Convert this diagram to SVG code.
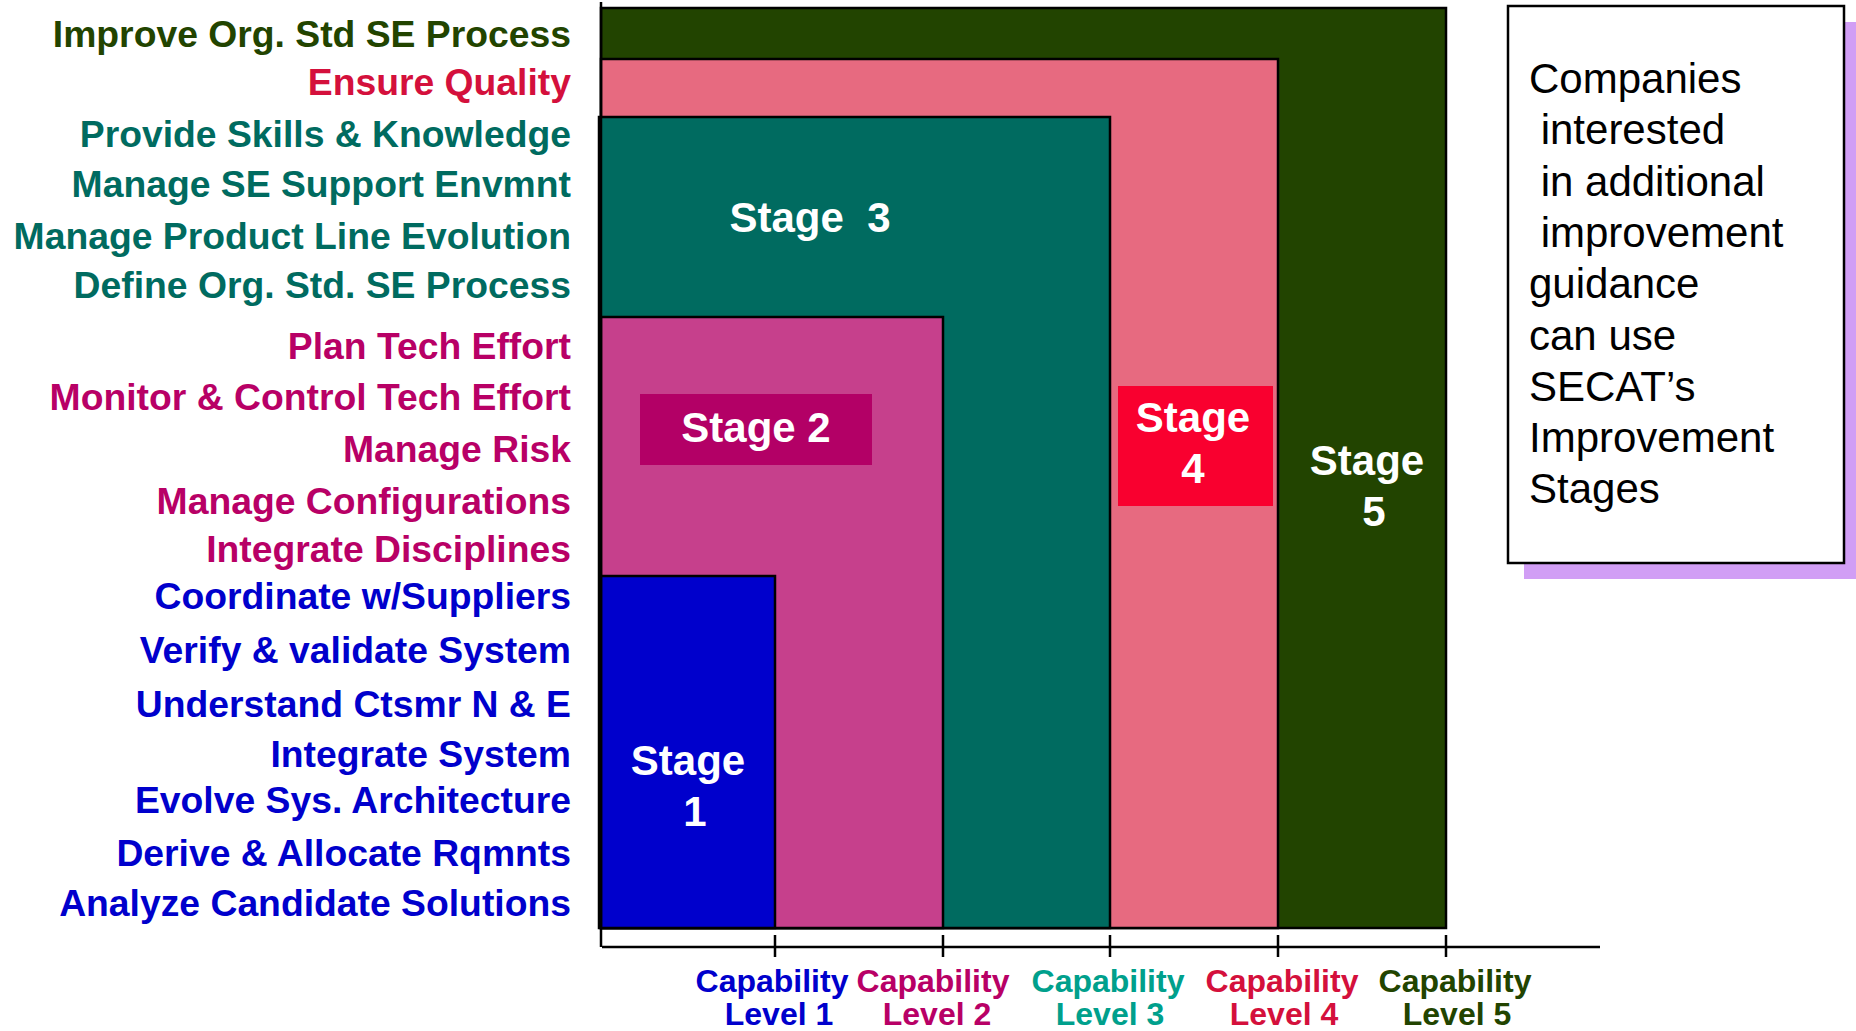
<svg xmlns="http://www.w3.org/2000/svg" width="1856" height="1031" viewBox="0 0 1856 1031">
<style>
.lbl{font-family:"Liberation Sans",Arial,sans-serif;font-weight:bold;font-size:37.3px;text-anchor:end}
.stg{font-family:"Liberation Sans",Arial,sans-serif;font-weight:bold;font-size:42px;fill:#ffffff;text-anchor:middle}
.cap{font-family:"Liberation Sans",Arial,sans-serif;font-weight:bold;font-size:32px;text-anchor:middle}
.note{font-family:"Liberation Sans",Arial,sans-serif;font-size:42px;fill:#000000}
.box{stroke:#000000;stroke-width:2.5}
.g5{fill:#224400}.c4{fill:#D4103C}.c3{fill:#006B60}.c2{fill:#B80066}.c1{fill:#0000CC}.c3l{fill:#00A08C}
.ax{stroke:#000000;stroke-width:2.5;fill:none}
</style>
<rect width="1856" height="1031" fill="#ffffff"/>
<g id="stage5"><rect class="box" x="601" y="8" width="845" height="920" fill="#224400"/></g>
<g id="stage4"><rect class="box" x="601" y="59" width="677" height="869" fill="#E76A80"/></g>
<g id="stage3"><rect class="box" x="599" y="117" width="511" height="811" fill="#006B60"/></g>
<g id="stage2"><rect class="box" x="601" y="317" width="342" height="611" fill="#C6408C"/></g>
<g id="stage1"><rect class="box" x="601" y="576" width="174" height="352" fill="#0000CC"/></g>
<g id="connectors">
<path class="ax" d="M601 2V947M602 947H1600M775 935V957M943 935V957M1110 935V957M1278 935V957M1446 935V957"/>
</g>
<g id="stage3-label"><text class="stg" x="810" y="232" xml:space="preserve">Stage  3</text></g>
<g id="stage2-label"><rect x="640" y="394" width="232" height="71" fill="#B30066"/><text class="stg" x="756" y="442">Stage 2</text></g>
<g id="stage4-label"><rect x="1118" y="386" width="155" height="120" fill="#F9002F"/><text class="stg" x="1193" y="432">Stage</text><text class="stg" x="1193" y="483">4</text></g>
<g id="stage5-label"><text class="stg" x="1367" y="475">Stage</text><text class="stg" x="1374" y="526">5</text></g>
<g id="stage1-label"><text class="stg" x="688" y="775">Stage</text><text class="stg" x="695" y="826">1</text></g>
<g id="process-labels">
<text class="lbl g5" x="571" y="47">Improve Org. Std SE Process</text>
<text class="lbl c4" x="571" y="95">Ensure Quality</text>
<text class="lbl c3" x="571" y="147">Provide Skills &amp; Knowledge</text>
<text class="lbl c3" x="571" y="197">Manage SE Support Envmnt</text>
<text class="lbl c3" x="571" y="249">Manage Product Line Evolution</text>
<text class="lbl c3" x="571" y="298">Define Org. Std. SE Process</text>
<text class="lbl c2" x="571" y="359">Plan Tech Effort</text>
<text class="lbl c2" x="571" y="410">Monitor &amp; Control Tech Effort</text>
<text class="lbl c2" x="571" y="462">Manage Risk</text>
<text class="lbl c2" x="571" y="514">Manage Configurations</text>
<text class="lbl c2" x="571" y="562">Integrate Disciplines</text>
<text class="lbl c1" x="571" y="609">Coordinate w/Suppliers</text>
<text class="lbl c1" x="571" y="663">Verify &amp; validate System</text>
<text class="lbl c1" x="571" y="717">Understand Ctsmr N &amp; E</text>
<text class="lbl c1" x="571" y="767">Integrate System</text>
<text class="lbl c1" x="571" y="813">Evolve Sys. Architecture</text>
<text class="lbl c1" x="571" y="866">Derive &amp; Allocate Rqmnts</text>
<text class="lbl c1" x="571" y="916">Analyze Candidate Solutions</text>
</g>
<g id="capability-levels">
<text class="cap c1" x="772" y="992">Capability</text><text class="cap c1" x="779" y="1025">Level 1</text>
<text class="cap c2" x="933" y="992">Capability</text><text class="cap c2" x="937" y="1025">Level 2</text>
<text class="cap c3l" x="1108" y="992">Capability</text><text class="cap c3l" x="1110" y="1025">Level 3</text>
<text class="cap c4" x="1282" y="992">Capability</text><text class="cap c4" x="1284" y="1025">Level 4</text>
<text class="cap g5" x="1455" y="992">Capability</text><text class="cap g5" x="1457" y="1025">Level 5</text>
</g>
<g id="note">
<rect x="1524" y="22" width="340" height="557" fill="#D19EF5"/>
<rect class="box" x="1508" y="6" width="336" height="557" fill="#ffffff"/>
<text class="note" xml:space="preserve"><tspan x="1529" y="93">Companies</tspan><tspan x="1529" y="144"> interested</tspan><tspan x="1529" y="196"> in additional</tspan><tspan x="1529" y="247"> improvement</tspan><tspan x="1529" y="298">guidance</tspan><tspan x="1529" y="350">can use</tspan><tspan x="1529" y="401">SECAT’s</tspan><tspan x="1529" y="452">Improvement</tspan><tspan x="1529" y="503">Stages</tspan></text>
</g>
</svg>
